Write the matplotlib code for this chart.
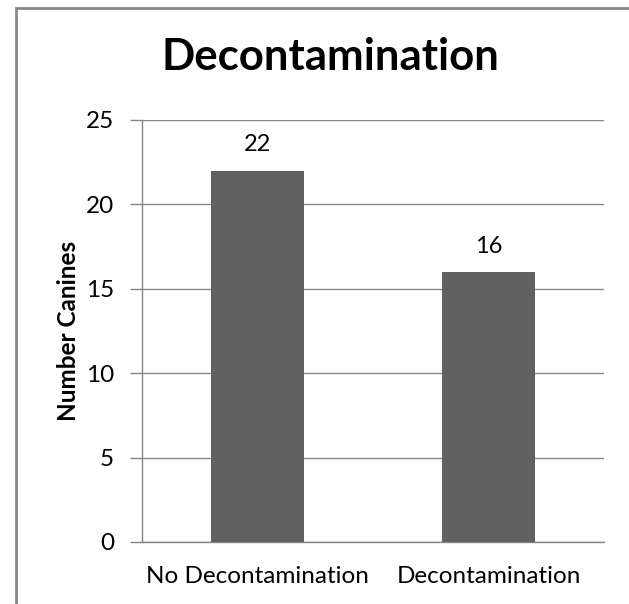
import numpy as np
import matplotlib.pyplot as plt
from matplotlib.patches import Rectangle

categories = ["No Decontamination", "Decontamination"]
counts = [22, 16]
y_ticks = [0, 5, 10, 15, 20, 25]

plt.rcParams['font.family'] = ['Lato', 'DejaVu Sans']

grey = "#868686"
bar_color = "#616161"

fig = plt.figure(figsize=(6.29, 6.04), dpi=100)
ax = fig.add_axes([142 / 629, 62 / 604, 462 / 629, 422 / 604])

x = np.arange(len(categories))
ax.bar(x, counts, width=0.4, color=bar_color, zorder=3)
for xi, v in zip(x, counts):
    ax.text(xi, v + 0.9, str(v), ha="center", va="bottom", fontsize=17)

ax.set_xlim(-0.5, len(categories) - 0.5)
ax.set_ylim(0, 25)
ax.set_yticks(y_ticks)
ax.set_xticks(x)
ax.set_xticklabels(categories, fontsize=17.5)
ax.tick_params(axis="y", labelsize=17.5, length=9, width=1, color=grey, pad=11)
ax.tick_params(axis="x", length=0, pad=17)
ax.yaxis.grid(True, color=grey, linewidth=1, zorder=0)

for side in ["top", "right"]:
    ax.spines[side].set_visible(False)
for side in ["left", "bottom"]:
    ax.spines[side].set_color(grey)
    ax.spines[side].set_linewidth(1)

ax.set_ylabel("Number Canines", fontsize=17.5, fontweight="bold")
ax.yaxis.set_label_coords(-0.135, 0.5)
fig.text(330 / 629, 0.905, "Decontamination", ha="center", va="center",
         fontsize=31.5, fontweight="bold")

# chart area border, cut off at right and bottom as in the original
fig.patches.append(Rectangle((15.5 / 629, -0.1), 1.2, 0.1 + (604 - 7.5) / 604,
                             transform=fig.transFigure, fill=False,
                             edgecolor=grey, linewidth=2))

fig.savefig("out.png", dpi=100)
